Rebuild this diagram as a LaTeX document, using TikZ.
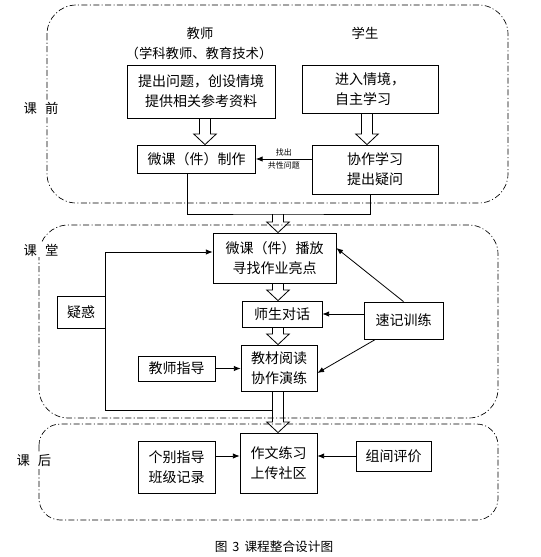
\documentclass[tikz,border=0pt]{standalone}
\usepackage{fontspec}
\setmainfont{Noto Sans CJK SC}
\usetikzlibrary{arrows.meta, calc, positioning}

% hollow block arrow, axis taken from the first point
\newcommand{\hollowarrow}[2]{%
  \draw[line width=0.6pt] let \p1=#1, \p2=#2 in
    (\x1-4.1pt,\y1) -- (\x1-4.1pt,\y2+8pt) -- (\x1-8.5pt,\y2+8pt) -- (\x1,\y2)
    -- (\x1+8.5pt,\y2+8pt) -- (\x1+4.1pt,\y2+8pt) -- (\x1+4.1pt,\y1);}

\begin{document}
\begin{tikzpicture}[x=0.75pt, y=-0.75pt,
  box/.style={draw, line width=0.6pt, inner sep=0pt, align=center, font=\fontsize{10.5}{15}\selectfont},
  stage/.style={draw, line width=0.5pt, dash pattern=on 4.5pt off 1.8pt on 0.8pt off 1.8pt, rounded corners=#1},
  conn/.style={-{Latex[length=5pt,width=4pt]}, line width=0.6pt},
  tag/.style={fill=white, inner sep=1pt, font=\fontsize{10}{12}\selectfont},
  note/.style={font=\fontsize{6}{7}\selectfont, inner sep=1.5pt}]
  \useasboundingbox (0,0) rectangle (540,557);

  % Three stages
  \draw[stage=22pt] (47,5) rectangle (508,203);
  \draw[stage=22pt] (39,225) rectangle (498,418);
  \draw[stage=16pt] (39,424) rectangle (498,520);

  \node[tag] (sq) at (41,108) {课\hspace{0.6em}前};
  \node[tag] (kt) at (41,250) {课\hspace{0.6em}堂};
  \node[tag] (kh) at (34,460) {课\hspace{0.6em}后};

  % Before class
  \node[font=\fontsize{10}{12}\selectfont] (js) at (200,33) {教师};
  \node[font=\fontsize{10}{12}\selectfont] (jsx) at (199,53) {（学科教师、教育技术）};
  \node[font=\fontsize{10}{12}\selectfont] (xsh) at (365,33) {学生};

  \node[box, minimum width=111pt, minimum height=39.75pt] (tc1) at (201,91.5) {提出问题，创设情境\\提供相关参考资料};
  \node[box, align=left, minimum width=102pt, minimum height=36pt] (xs1) at (370,89) {进入情境，\\自主学习};
  \node[box, minimum width=88.5pt, minimum height=21pt] (tc2) at (196.5,159) {微课（件）制作};
  \node[box, minimum width=94.5pt, minimum height=36.75pt] (xs2) at (375,169.5) {协作学习\\提出疑问};

  \hollowarrow{([xshift=3pt]tc1.south)}{(tc2.north)}
  \hollowarrow{([xshift=-2.25pt]xs1.south)}{(xs2.north)}

  \draw[conn] (xs2.west |- tc2.east) -- (tc2.east)
    node[midway, above, note] {找出} node[midway, below, note] {共性问题};

  % In class
  \coordinate (ax) at (278,0);
  \coordinate (mg) at (278,214);
  \coordinate (fb) at (272.5,410);

  \node[box, minimum width=92.25pt, minimum height=37.5pt] (kt1) at (274.5,258) {微课（件）播放\\寻找作业亮点};
  \node[box, minimum width=60pt, minimum height=19.5pt] (kt2) at (282,314) {师生对话};
  \node[box, minimum width=57pt, minimum height=34.5pt] (kt3) at (279,368) {教材阅读\\协作演练};
  \node[box, minimum width=36pt, minimum height=24pt] (yh) at (81,312) {疑惑};
  \node[box, minimum width=59.25pt, minimum height=27.75pt] (sj) at (403.5,320.5) {速记训练};
  \node[box, minimum width=57.75pt, minimum height=18.75pt] (zd) at (176.5,368.5) {教师指导};

  \draw[line width=0.6pt] ([xshift=-7.1pt]tc2.south) |- (mg) -| ([xshift=-3.75pt]xs2.south);
  \hollowarrow{(mg)}{(kt1.north)}
  \hollowarrow{(kt1.south -| ax)}{(kt2.north)}
  \hollowarrow{(kt2.south -| ax)}{(kt3.north)}

  \draw[conn] (sj.north) -- ([yshift=7.5pt]kt1.east);
  \draw[conn] (sj.west |- kt2.east) -- (kt2.east);
  \draw[conn] (sj.214) -- ([yshift=-3.75pt]kt3.east);
  \draw[conn] (zd.east) -- (zd.east -| kt3.west);
  \draw[conn] (fb) -| (yh.east) |- ([yshift=4.5pt]kt1.west);

  % After class
  \node[box, minimum width=57.75pt, minimum height=45pt] (kh1) at (278.5,463) {作文练习\\上传社区};
  \node[box, minimum width=57.75pt, minimum height=39pt] (kh2) at (176.5,467) {个别指导\\班级记录};
  \node[box, minimum width=56.25pt, minimum height=22.5pt] (kh3) at (393.5,456) {组间评价};

  \hollowarrow{(kt3.south -| ax)}{(kh1.north)}
  \draw[conn] (kh2.east |- kh3.west) -- (kh1.west |- kh3.west);
  \draw[conn] (kh3.west) -- (kh1.east |- kh3.west);

  % Caption
  \node[font=\fontsize{9.5}{11}\selectfont] (cap) at (274,547) {图\hspace{0.4em}3\hspace{0.4em}课程整合设计图};
\end{tikzpicture}
\end{document}
